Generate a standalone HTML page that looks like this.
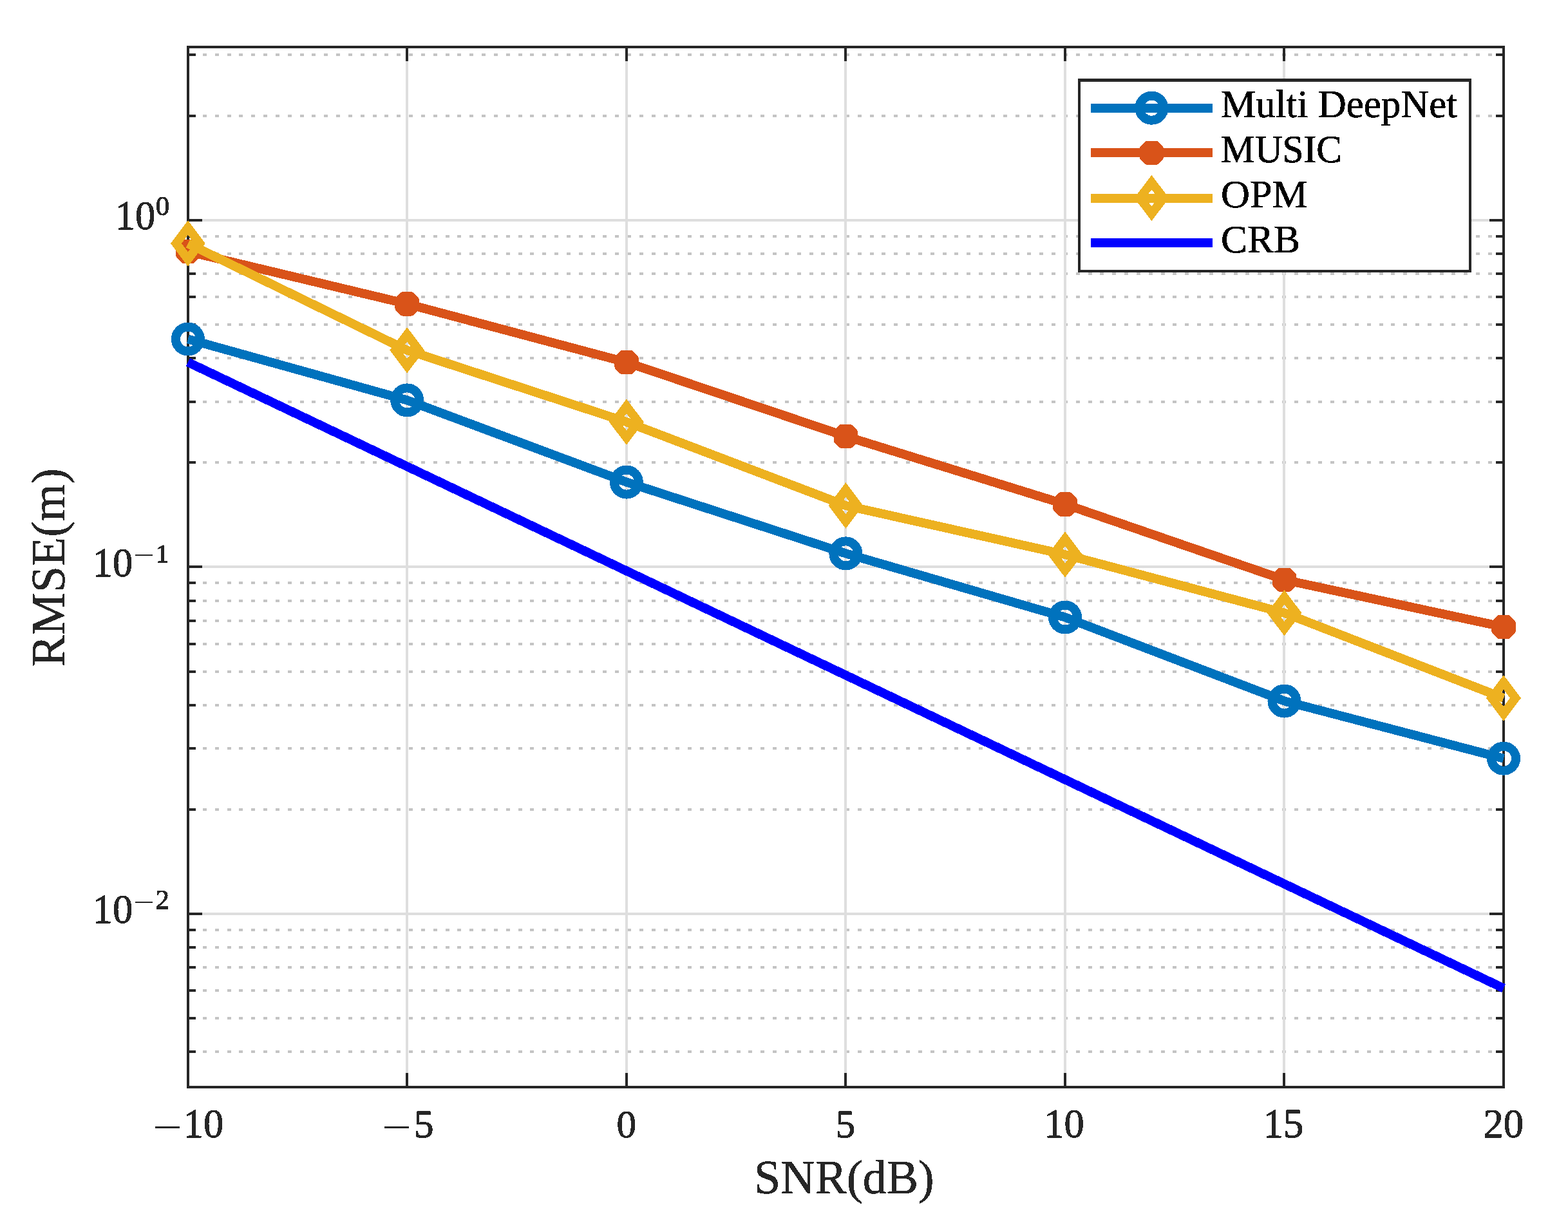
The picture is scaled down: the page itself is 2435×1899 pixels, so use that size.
<!DOCTYPE html>
<html><head><meta charset="utf-8"><title>RMSE vs SNR</title>
<style>html,body{margin:0;padding:0;background:#fff;}body{width:2435px;height:1899px;overflow:hidden;}svg{display:block;}</style>
</head><body>
<svg xmlns="http://www.w3.org/2000/svg" width="2435" height="1899" viewBox="0 0 2435 1899" shape-rendering="crispEdges">
<rect x="0" y="0" width="2435" height="1899" fill="#ffffff"/>
<defs><filter id="bin" x="-5%" y="-20%" width="110%" height="140%" color-interpolation-filters="sRGB"><feComponentTransfer><feFuncA type="discrete" tableValues="0 1"/></feComponentTransfer></filter></defs>
<line x1="296.17" y1="1633.00" x2="2335.00" y2="1633.00" stroke="#c4c4c4" stroke-width="4.0" stroke-dasharray="6.0 12.83"/>
<line x1="296.17" y1="1581.00" x2="2335.00" y2="1581.00" stroke="#c4c4c4" stroke-width="4.0" stroke-dasharray="6.0 12.83"/>
<line x1="296.17" y1="1538.00" x2="2335.00" y2="1538.00" stroke="#c4c4c4" stroke-width="4.0" stroke-dasharray="6.0 12.83"/>
<line x1="296.17" y1="1502.00" x2="2335.00" y2="1502.00" stroke="#c4c4c4" stroke-width="4.0" stroke-dasharray="6.0 12.83"/>
<line x1="296.17" y1="1471.00" x2="2335.00" y2="1471.00" stroke="#c4c4c4" stroke-width="4.0" stroke-dasharray="6.0 12.83"/>
<line x1="296.17" y1="1444.00" x2="2335.00" y2="1444.00" stroke="#c4c4c4" stroke-width="4.0" stroke-dasharray="6.0 12.83"/>
<line x1="296.17" y1="1257.00" x2="2335.00" y2="1257.00" stroke="#c4c4c4" stroke-width="4.0" stroke-dasharray="6.0 12.83"/>
<line x1="296.17" y1="1162.00" x2="2335.00" y2="1162.00" stroke="#c4c4c4" stroke-width="4.0" stroke-dasharray="6.0 12.83"/>
<line x1="296.17" y1="1095.00" x2="2335.00" y2="1095.00" stroke="#c4c4c4" stroke-width="4.0" stroke-dasharray="6.0 12.83"/>
<line x1="296.17" y1="1043.00" x2="2335.00" y2="1043.00" stroke="#c4c4c4" stroke-width="4.0" stroke-dasharray="6.0 12.83"/>
<line x1="296.17" y1="1000.00" x2="2335.00" y2="1000.00" stroke="#c4c4c4" stroke-width="4.0" stroke-dasharray="6.0 12.83"/>
<line x1="296.17" y1="964.00" x2="2335.00" y2="964.00" stroke="#c4c4c4" stroke-width="4.0" stroke-dasharray="6.0 12.83"/>
<line x1="296.17" y1="933.00" x2="2335.00" y2="933.00" stroke="#c4c4c4" stroke-width="4.0" stroke-dasharray="6.0 12.83"/>
<line x1="296.17" y1="905.00" x2="2335.00" y2="905.00" stroke="#c4c4c4" stroke-width="4.0" stroke-dasharray="6.0 12.83"/>
<line x1="296.17" y1="718.00" x2="2335.00" y2="718.00" stroke="#c4c4c4" stroke-width="4.0" stroke-dasharray="6.0 12.83"/>
<line x1="296.17" y1="624.00" x2="2335.00" y2="624.00" stroke="#c4c4c4" stroke-width="4.0" stroke-dasharray="6.0 12.83"/>
<line x1="296.17" y1="556.00" x2="2335.00" y2="556.00" stroke="#c4c4c4" stroke-width="4.0" stroke-dasharray="6.0 12.83"/>
<line x1="296.17" y1="504.00" x2="2335.00" y2="504.00" stroke="#c4c4c4" stroke-width="4.0" stroke-dasharray="6.0 12.83"/>
<line x1="296.17" y1="461.00" x2="2335.00" y2="461.00" stroke="#c4c4c4" stroke-width="4.0" stroke-dasharray="6.0 12.83"/>
<line x1="296.17" y1="425.00" x2="2335.00" y2="425.00" stroke="#c4c4c4" stroke-width="4.0" stroke-dasharray="6.0 12.83"/>
<line x1="296.17" y1="394.00" x2="2335.00" y2="394.00" stroke="#c4c4c4" stroke-width="4.0" stroke-dasharray="6.0 12.83"/>
<line x1="296.17" y1="367.00" x2="2335.00" y2="367.00" stroke="#c4c4c4" stroke-width="4.0" stroke-dasharray="6.0 12.83"/>
<line x1="296.17" y1="180.00" x2="2335.00" y2="180.00" stroke="#c4c4c4" stroke-width="4.0" stroke-dasharray="6.0 12.83"/>
<line x1="296.17" y1="85.00" x2="2335.00" y2="85.00" stroke="#c4c4c4" stroke-width="4.0" stroke-dasharray="6.0 12.83"/>
<line x1="632.00" y1="73.0" x2="632.00" y2="1688.0" stroke="#dedede" stroke-width="4.0"/>
<line x1="973.00" y1="73.0" x2="973.00" y2="1688.0" stroke="#dedede" stroke-width="4.0"/>
<line x1="1313.00" y1="73.0" x2="1313.00" y2="1688.0" stroke="#dedede" stroke-width="4.0"/>
<line x1="1654.00" y1="73.0" x2="1654.00" y2="1688.0" stroke="#dedede" stroke-width="4.0"/>
<line x1="1994.00" y1="73.0" x2="1994.00" y2="1688.0" stroke="#dedede" stroke-width="4.0"/>
<line x1="292.0" y1="342.00" x2="2335.0" y2="342.00" stroke="#dedede" stroke-width="4.0"/>
<line x1="292.0" y1="880.00" x2="2335.0" y2="880.00" stroke="#dedede" stroke-width="4.0"/>
<line x1="292.0" y1="1419.00" x2="2335.0" y2="1419.00" stroke="#dedede" stroke-width="4.0"/>
<path d="M632.00 1688.0V1666.0M632.00 73.0V95.0M973.00 1688.0V1666.0M973.00 73.0V95.0M1313.00 1688.0V1666.0M1313.00 73.0V95.0M1654.00 1688.0V1666.0M1654.00 73.0V95.0M1994.00 1688.0V1666.0M1994.00 73.0V95.0M292.0 342.00H314.0M2335.0 342.00H2313.0M292.0 880.00H314.0M2335.0 880.00H2313.0M292.0 1419.00H314.0M2335.0 1419.00H2313.0M292.0 1633.00H304.0M2335.0 1633.00H2323.0M292.0 1581.00H304.0M2335.0 1581.00H2323.0M292.0 1538.00H304.0M2335.0 1538.00H2323.0M292.0 1502.00H304.0M2335.0 1502.00H2323.0M292.0 1471.00H304.0M2335.0 1471.00H2323.0M292.0 1444.00H304.0M2335.0 1444.00H2323.0M292.0 1257.00H304.0M2335.0 1257.00H2323.0M292.0 1162.00H304.0M2335.0 1162.00H2323.0M292.0 1095.00H304.0M2335.0 1095.00H2323.0M292.0 1043.00H304.0M2335.0 1043.00H2323.0M292.0 1000.00H304.0M2335.0 1000.00H2323.0M292.0 964.00H304.0M2335.0 964.00H2323.0M292.0 933.00H304.0M2335.0 933.00H2323.0M292.0 905.00H304.0M2335.0 905.00H2323.0M292.0 718.00H304.0M2335.0 718.00H2323.0M292.0 624.00H304.0M2335.0 624.00H2323.0M292.0 556.00H304.0M2335.0 556.00H2323.0M292.0 504.00H304.0M2335.0 504.00H2323.0M292.0 461.00H304.0M2335.0 461.00H2323.0M292.0 425.00H304.0M2335.0 425.00H2323.0M292.0 394.00H304.0M2335.0 394.00H2323.0M292.0 367.00H304.0M2335.0 367.00H2323.0M292.0 180.00H304.0M2335.0 180.00H2323.0M292.0 85.00H304.0M2335.0 85.00H2323.0" stroke="#262626" stroke-width="4.0" fill="none"/>
<rect x="292.0" y="73.0" width="2043.00" height="1615.00" fill="none" stroke="#262626" stroke-width="4.0" stroke-linejoin="miter" stroke-linecap="square"/>
<polyline points="291.90,526.50 632.20,621.40 972.90,748.60 1313.40,859.40 1654.00,958.50 1994.50,1088.50 2335.00,1177.70" fill="none" stroke="#0072bd" stroke-width="14.0" stroke-linejoin="miter" stroke-linecap="butt"/>
<circle cx="291.90" cy="526.50" r="19.0" fill="none" stroke="#0072bd" stroke-width="14.0"/>
<circle cx="632.20" cy="621.40" r="19.0" fill="none" stroke="#0072bd" stroke-width="14.0"/>
<circle cx="972.90" cy="748.60" r="19.0" fill="none" stroke="#0072bd" stroke-width="14.0"/>
<circle cx="1313.40" cy="859.40" r="19.0" fill="none" stroke="#0072bd" stroke-width="14.0"/>
<circle cx="1654.00" cy="958.50" r="19.0" fill="none" stroke="#0072bd" stroke-width="14.0"/>
<circle cx="1994.50" cy="1088.50" r="19.0" fill="none" stroke="#0072bd" stroke-width="14.0"/>
<circle cx="2335.00" cy="1177.70" r="19.0" fill="none" stroke="#0072bd" stroke-width="14.0"/>
<polyline points="291.90,390.50 632.20,471.90 972.90,562.60 1313.40,677.50 1654.00,783.00 1994.50,900.30 2335.00,973.50" fill="none" stroke="#d95319" stroke-width="14.0" stroke-linejoin="miter" stroke-linecap="butt"/>
<polygon points="298.70,371.70 301.60,372.80 309.60,380.80 310.70,383.70 310.70,397.30 309.60,400.20 301.60,408.20 298.70,409.30 285.10,409.30 282.20,408.20 274.20,400.20 273.10,397.30 273.10,383.70 274.20,380.80 282.20,372.80 285.10,371.70" fill="#d95319"/>
<polygon points="639.00,453.10 641.90,454.20 649.90,462.20 651.00,465.10 651.00,478.70 649.90,481.60 641.90,489.60 639.00,490.70 625.40,490.70 622.50,489.60 614.50,481.60 613.40,478.70 613.40,465.10 614.50,462.20 622.50,454.20 625.40,453.10" fill="#d95319"/>
<polygon points="979.70,543.80 982.60,544.90 990.60,552.90 991.70,555.80 991.70,569.40 990.60,572.30 982.60,580.30 979.70,581.40 966.10,581.40 963.20,580.30 955.20,572.30 954.10,569.40 954.10,555.80 955.20,552.90 963.20,544.90 966.10,543.80" fill="#d95319"/>
<polygon points="1320.20,658.70 1323.10,659.80 1331.10,667.80 1332.20,670.70 1332.20,684.30 1331.10,687.20 1323.10,695.20 1320.20,696.30 1306.60,696.30 1303.70,695.20 1295.70,687.20 1294.60,684.30 1294.60,670.70 1295.70,667.80 1303.70,659.80 1306.60,658.70" fill="#d95319"/>
<polygon points="1660.80,764.20 1663.70,765.30 1671.70,773.30 1672.80,776.20 1672.80,789.80 1671.70,792.70 1663.70,800.70 1660.80,801.80 1647.20,801.80 1644.30,800.70 1636.30,792.70 1635.20,789.80 1635.20,776.20 1636.30,773.30 1644.30,765.30 1647.20,764.20" fill="#d95319"/>
<polygon points="2001.30,881.50 2004.20,882.60 2012.20,890.60 2013.30,893.50 2013.30,907.10 2012.20,910.00 2004.20,918.00 2001.30,919.10 1987.70,919.10 1984.80,918.00 1976.80,910.00 1975.70,907.10 1975.70,893.50 1976.80,890.60 1984.80,882.60 1987.70,881.50" fill="#d95319"/>
<polygon points="2341.80,954.70 2344.70,955.80 2352.70,963.80 2353.80,966.70 2353.80,980.30 2352.70,983.20 2344.70,991.20 2341.80,992.30 2328.20,992.30 2325.30,991.20 2317.30,983.20 2316.20,980.30 2316.20,966.70 2317.30,963.80 2325.30,955.80 2328.20,954.70" fill="#d95319"/>
<polyline points="291.90,378.00 632.20,543.80 972.90,655.20 1313.40,785.00 1654.00,861.10 1994.50,951.70 2335.00,1083.90" fill="none" stroke="#edb120" stroke-width="14.0" stroke-linejoin="miter" stroke-linecap="butt"/>
<path d="M291.90 353.60L310.35 378.00L291.90 402.40L273.45 378.00Z" fill="none" stroke="#edb120" stroke-width="13.6" stroke-linejoin="miter" stroke-miterlimit="10"/>
<path d="M632.20 519.40L650.65 543.80L632.20 568.20L613.75 543.80Z" fill="none" stroke="#edb120" stroke-width="13.6" stroke-linejoin="miter" stroke-miterlimit="10"/>
<path d="M972.90 630.80L991.35 655.20L972.90 679.60L954.45 655.20Z" fill="none" stroke="#edb120" stroke-width="13.6" stroke-linejoin="miter" stroke-miterlimit="10"/>
<path d="M1313.40 760.60L1331.85 785.00L1313.40 809.40L1294.95 785.00Z" fill="none" stroke="#edb120" stroke-width="13.6" stroke-linejoin="miter" stroke-miterlimit="10"/>
<path d="M1654.00 836.70L1672.45 861.10L1654.00 885.50L1635.55 861.10Z" fill="none" stroke="#edb120" stroke-width="13.6" stroke-linejoin="miter" stroke-miterlimit="10"/>
<path d="M1994.50 927.30L2012.95 951.70L1994.50 976.10L1976.05 951.70Z" fill="none" stroke="#edb120" stroke-width="13.6" stroke-linejoin="miter" stroke-miterlimit="10"/>
<path d="M2335.00 1059.50L2353.45 1083.90L2335.00 1108.30L2316.55 1083.90Z" fill="none" stroke="#edb120" stroke-width="13.6" stroke-linejoin="miter" stroke-miterlimit="10"/>
<line x1="291.9" y1="562.4" x2="2335.0" y2="1534.5" stroke="#0000ff" stroke-width="14.0"/>
<text x="237.03" y="1771.62" font-family="'Liberation Serif', 'Times New Roman', serif" font-size="63.6" fill="#262626" filter="url(#bin)" textLength="46.05" lengthAdjust="spacingAndGlyphs">−</text>
<text x="284.81" y="1766.10" font-family="'Liberation Serif', 'Times New Roman', serif" font-size="62.46" fill="#262626" filter="url(#bin)" stroke="#262626" stroke-width="1.0" stroke-linejoin="round">10</text>
<text x="593.23" y="1771.62" font-family="'Liberation Serif', 'Times New Roman', serif" font-size="63.6" fill="#262626" filter="url(#bin)" textLength="46.05" lengthAdjust="spacingAndGlyphs">−</text>
<text x="642.95" y="1766.10" font-family="'Liberation Serif', 'Times New Roman', serif" font-size="61.12" fill="#262626" filter="url(#bin)" stroke="#262626" stroke-width="1.0" stroke-linejoin="round">5</text>
<text x="957.59" y="1766.10" font-family="'Liberation Serif', 'Times New Roman', serif" font-size="61.24" fill="#262626" filter="url(#bin)" stroke="#262626" stroke-width="1.0" stroke-linejoin="round">0</text>
<text x="1297.54" y="1766.10" font-family="'Liberation Serif', 'Times New Roman', serif" font-size="61.12" fill="#262626" filter="url(#bin)" stroke="#262626" stroke-width="1.0" stroke-linejoin="round">5</text>
<text x="1621.22" y="1766.10" font-family="'Liberation Serif', 'Times New Roman', serif" font-size="62.46" fill="#262626" filter="url(#bin)" stroke="#262626" stroke-width="1.0" stroke-linejoin="round">10</text>
<text x="1961.75" y="1766.10" font-family="'Liberation Serif', 'Times New Roman', serif" font-size="62.45" fill="#262626" filter="url(#bin)" stroke="#262626" stroke-width="1.0" stroke-linejoin="round">15</text>
<text x="2303.56" y="1766.10" font-family="'Liberation Serif', 'Times New Roman', serif" font-size="62.51" fill="#262626" filter="url(#bin)" stroke="#262626" stroke-width="1.0" stroke-linejoin="round">20</text>
<text x="241.66" y="334.30" font-family="'Liberation Serif', 'Times New Roman', serif" font-size="43.14" fill="#262626" filter="url(#bin)" stroke="#262626" stroke-width="1.0" stroke-linejoin="round">0</text>
<text x="178.81" y="356.10" font-family="'Liberation Serif', 'Times New Roman', serif" font-size="62.46" fill="#262626" filter="url(#bin)" stroke="#262626" stroke-width="1.0" stroke-linejoin="round">10</text>
<text x="241.80" y="872.80" font-family="'Liberation Serif', 'Times New Roman', serif" font-size="40.96" fill="#262626" filter="url(#bin)" stroke="#262626" stroke-width="1.0" stroke-linejoin="round">1</text>
<text x="207.11" y="877.11" font-family="'Liberation Serif', 'Times New Roman', serif" font-size="45.5" fill="#262626" filter="url(#bin)" textLength="32.72" lengthAdjust="spacingAndGlyphs">−</text>
<text x="143.81" y="894.60" font-family="'Liberation Serif', 'Times New Roman', serif" font-size="62.46" fill="#262626" filter="url(#bin)" stroke="#262626" stroke-width="1.0" stroke-linejoin="round">10</text>
<text x="241.41" y="1411.30" font-family="'Liberation Serif', 'Times New Roman', serif" font-size="43.01" fill="#262626" filter="url(#bin)" stroke="#262626" stroke-width="1.0" stroke-linejoin="round">2</text>
<text x="207.11" y="1415.61" font-family="'Liberation Serif', 'Times New Roman', serif" font-size="45.5" fill="#262626" filter="url(#bin)" textLength="32.72" lengthAdjust="spacingAndGlyphs">−</text>
<text x="143.81" y="1433.10" font-family="'Liberation Serif', 'Times New Roman', serif" font-size="62.46" fill="#262626" filter="url(#bin)" stroke="#262626" stroke-width="1.0" stroke-linejoin="round">10</text>
<text x="1171.05" y="1852.80" font-family="'Liberation Serif', 'Times New Roman', serif" font-size="74" fill="#262626" filter="url(#bin)" stroke="#262626" stroke-width="0.6">SNR(dB)</text>
<text transform="translate(99.9 1035.43) rotate(-90)" x="0" y="0" font-family="'Liberation Serif', 'Times New Roman', serif" font-size="74" fill="#262626" stroke="#262626" stroke-width="0.6" filter="url(#bin)">RMSE(m)</text>
<rect x="1674" y="122" width="611" height="301" fill="#ffffff"/>
<path d="M1674 122h611v5h-611zM1674 419h611v4h-611zM1674 122h4v301h-4zM2281 122h4v301h-4z" fill="#262626"/>
<line x1="1693.7" y1="167.70" x2="1882.7" y2="167.70" stroke="#0072bd" stroke-width="14.0"/>
<circle cx="1788.40" cy="167.70" r="19.0" fill="none" stroke="#0072bd" stroke-width="14.0"/>
<text x="1896.05" y="182.20" font-family="'Liberation Serif', 'Times New Roman', serif" font-size="61" fill="#000000" filter="url(#bin)" textLength="367.11" lengthAdjust="spacingAndGlyphs" stroke="#000000" stroke-width="0.6">Multi DeepNet</text>
<line x1="1693.7" y1="237.30" x2="1882.7" y2="237.30" stroke="#d95319" stroke-width="14.0"/>
<polygon points="1795.20,218.50 1798.10,219.60 1806.10,227.60 1807.20,230.50 1807.20,244.10 1806.10,247.00 1798.10,255.00 1795.20,256.10 1781.60,256.10 1778.70,255.00 1770.70,247.00 1769.60,244.10 1769.60,230.50 1770.70,227.60 1778.70,219.60 1781.60,218.50" fill="#d95319"/>
<text x="1896.09" y="251.80" font-family="'Liberation Serif', 'Times New Roman', serif" font-size="61" fill="#000000" filter="url(#bin)" textLength="187.68" lengthAdjust="spacingAndGlyphs" stroke="#000000" stroke-width="0.6">MUSIC</text>
<line x1="1693.7" y1="307.50" x2="1882.7" y2="307.50" stroke="#edb120" stroke-width="14.0"/>
<path d="M1788.40 283.10L1806.85 307.50L1788.40 331.90L1769.95 307.50Z" fill="none" stroke="#edb120" stroke-width="13.6" stroke-linejoin="miter" stroke-miterlimit="10"/>
<text x="1896.05" y="322.00" font-family="'Liberation Serif', 'Times New Roman', serif" font-size="61" fill="#000000" filter="url(#bin)" textLength="134.88" lengthAdjust="spacingAndGlyphs" stroke="#000000" stroke-width="0.6">OPM</text>
<line x1="1693.7" y1="377.30" x2="1882.7" y2="377.30" stroke="#0000ff" stroke-width="14.0"/>
<text x="1896.08" y="391.80" font-family="'Liberation Serif', 'Times New Roman', serif" font-size="61" fill="#000000" filter="url(#bin)" textLength="122.92" lengthAdjust="spacingAndGlyphs" stroke="#000000" stroke-width="0.6">CRB</text>
</svg>
</body></html>
